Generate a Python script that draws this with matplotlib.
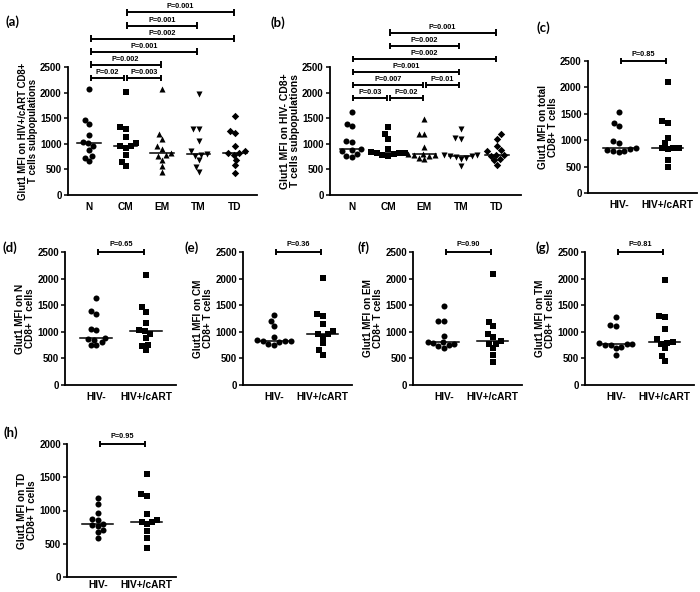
import numpy as np
import matplotlib
matplotlib.use("Agg")
import matplotlib.pyplot as plt

plt.rcParams['font.family'] = ['Liberation Sans', 'DejaVu Sans']

# ---------------- data ----------------
subsets = ["N", "CM", "EM", "TM", "TD"]
groups = ["HIV-", "HIV+/cART"]

# HIV+/cART Glut1 MFI per CD8+ subset
pos_N = [2070, 1460, 1380, 1170, 1030, 1020, 960, 880, 760, 730, 660]
pos_CM = [2010, 1330, 1290, 1140, 1010, 960, 950, 910, 790, 650, 560]
pos_EM = [2080, 1190, 1100, 960, 900, 820, 780, 770, 690, 560, 440]
pos_TM = [1980, 1290, 1280, 1050, 860, 800, 790, 770, 690, 550, 450]
pos_TD = [1550, 1250, 1220, 950, 860, 830, 820, 790, 690, 580, 430]
# HIV- Glut1 MFI per CD8+ subset
neg_N = [1630, 1390, 1340, 1050, 1030, 890, 870, 850, 800, 760, 750]
neg_CM = [1320, 1200, 1100, 900, 840, 830, 830, 820, 800, 780, 760]
neg_EM = [1490, 1200, 1200, 930, 810, 800, 790, 780, 760, 730, 700]
neg_TM = [1280, 1120, 1100, 790, 780, 770, 760, 750, 720, 700, 570]
neg_TD = [1190, 1100, 960, 870, 860, 790, 780, 770, 700, 680, 580]
# total CD8+
neg_total = [1540, 1330, 1260, 980, 940, 850, 840, 820, 800, 790, 780]
pos_total = [2100, 1360, 1330, 1040, 940, 860, 860, 850, 840, 620, 490]

# pairwise tests (from, to, label, level)
tests_a = [("N", "CM", "P=0.02", 0), ("CM", "EM", "P=0.003", 0),
           ("N", "EM", "P=0.002", 1), ("N", "TM", "P=0.001", 2),
           ("N", "TD", "P=0.002", 3), ("CM", "TM", "P=0.001", 4),
           ("CM", "TD", "P=0.001", 5)]
tests_b = [("N", "CM", "P=0.03", 0), ("CM", "EM", "P=0.02", 0),
           ("N", "EM", "P=0.007", 1), ("EM", "TM", "P=0.01", 1),
           ("N", "TM", "P=0.001", 2), ("N", "TD", "P=0.002", 3),
           ("CM", "TM", "P=0.002", 4), ("CM", "TD", "P=0.001", 5)]
p_two = {"c": "P=0.85", "d": "P=0.65", "e": "P=0.36",
         "f": "P=0.90", "g": "P=0.81", "h": "P=0.95"}

subset_markers = ["o", "s", "^", "v", "D"]
group_markers = ["o", "s"]

W, H = 700, 592
fig = plt.figure(figsize=(W / 100, H / 100), dpi=100)

TICK_FS = 7
XT_FS = 7.3
P_FS = 5.3
DIAM = 5.8
MS = 19


def add_ax(l, t, r, b):
    return fig.add_axes([l / W, 1 - b / H, (r - l) / W, (b - t) / H])


def swarm_offsets(vals, px_per_val, diam):
    y = np.asarray(vals, float) * px_per_val
    xs = np.zeros(len(y))
    placed = []
    for k, i in enumerate(np.argsort(y)):
        cands = [0.0]
        ints = []
        for j in placed:
            dy = y[i] - y[j]
            if abs(dy) < diam:
                half = np.sqrt(diam ** 2 - dy ** 2)
                ints.append((xs[j] - half, xs[j] + half))
                cands += [xs[j] - half, xs[j] + half]
        valid = [c for c in cands
                 if all(not (lo + 1e-6 < c < hi - 1e-6) for lo, hi in ints)]
        sgn = 1 if k % 2 else -1
        xs[i] = min(valid, key=lambda c: (round(abs(c), 4), sgn * c))
        placed.append(i)
    return xs


def style(ax, ymax, xlabels, xpad):
    for s in ["top", "right"]:
        ax.spines[s].set_visible(False)
    for s in ["left", "bottom"]:
        ax.spines[s].set_linewidth(1.3)
    ax.set_ylim(0, ymax)
    ax.set_yticks(np.arange(0, ymax + 1, 500))
    ax.tick_params(axis="y", length=3, width=1.1, pad=1.5, labelsize=TICK_FS)
    ax.tick_params(axis="x", length=0, pad=xpad, labelsize=XT_FS)
    ax.set_xticks(range(len(xlabels)))
    ax.set_xticklabels(xlabels)
    for lab in ax.get_xticklabels() + ax.get_yticklabels():
        lab.set_fontweight("bold")


def draw_groups(ax, data, markers, box, xlim, ymax, msize):
    l, t, r, b = box
    unit_px = (r - l) / (xlim[1] - xlim[0])
    px_per_val = (b - t) / ymax
    for i, (vals, m) in enumerate(zip(data, markers)):
        off = swarm_offsets(vals, px_per_val, DIAM) / unit_px
        s = msize * (0.75 if m == "D" else 1.0)
        ax.scatter(i + off, vals, marker=m, s=s, color="black",
                   linewidths=0, zorder=3, clip_on=False)
        med = np.median(vals)
        ax.plot([i - 0.32, i + 0.32], [med, med], color="black", lw=1.1,
                zorder=2)
    ax.set_xlim(*xlim)


def bracket(ax, x0, x1, y, label, cap, txt_off):
    g = 0.04
    kw = dict(color="black", lw=1.4, clip_on=False, solid_capstyle="butt")
    ax.plot([x0 + g, x1 - g], [y, y], **kw)
    ax.plot([x0 + g, x0 + g], [y - cap, y + cap], **kw)
    ax.plot([x1 - g, x1 - g], [y - cap, y + cap], **kw)
    ax.text((x0 + x1) / 2, y + txt_off, label, ha="center", va="bottom",
            fontsize=P_FS, fontweight="bold", clip_on=False)


def panel_label(x, y, s):
    fig.text(x / W, 1 - y / H, s, ha="center", va="center", fontsize=9.5,
             fontweight="bold", family=["Lato", "DejaVu Sans"])


# ---------- (a) and (b): subsets ----------
multi = [
    ("a", (68, 67, 257, 195), (-0.58, 4.6),
     [pos_N, pos_CM, pos_EM, pos_TM, pos_TD], tests_a, 2290,
     "Glut1 MFI on HIV+/cART CD8+\nT cells subpopulations", 6.9),
    ("b", (330, 67, 521, 195), (-0.6, 4.66),
     [neg_N, neg_CM, neg_EM, neg_TM, neg_TD], tests_b, 1895,
     "Glut1 MFI on HIV- CD8+\nT cells subpopulations", 7.5),
]
for key, box, xlim, data, tests, base, ylab, lfs in multi:
    ax = add_ax(*box)
    draw_groups(ax, data, subset_markers, box, xlim, 2500, MS)
    style(ax, 2500, subsets, 5)
    ax.set_ylabel(ylab, fontsize=lfs, fontweight="bold", labelpad=1.5,
                  linespacing=1.05)
    vpp = 2500 / (box[3] - box[1])
    for a0, a1, lab, lev in tests:
        bracket(ax, subsets.index(a0), subsets.index(a1), base + lev * 255,
                lab, 3.2 * vpp, 2.0 * vpp)

# ---------- (c)-(h): HIV- vs HIV+/cART ----------
two = [
    ("c", (588, 61, 697, 193), 2500, [neg_total, pos_total], "total", 5),
    ("d", (65, 252, 176, 385), 2500, [neg_N, pos_N], "N", 5),
    ("e", (243, 252, 352, 385), 2500, [neg_CM, pos_CM], "CM", 5),
    ("f", (413, 252, 522, 385), 2500, [neg_EM, pos_EM], "EM", 5),
    ("g", (585, 252, 694, 385), 2500, [neg_TM, pos_TM], "TM", 5),
    ("h", (67, 444, 176, 577), 2000, [neg_TD, pos_TD], "TD", 2.5),
]
for key, box, ymax, data, name, xpad in two:
    ax = add_ax(*box)
    xlim = (-0.63, 1.6)
    draw_groups(ax, data, group_markers, box, xlim, ymax, MS)
    style(ax, ymax, groups, xpad)
    ax.set_ylabel(f"Glut1 MFI on {name}\nCD8+ T cells", fontsize=7.2,
                  fontweight="bold", labelpad=1.5, linespacing=1.05)
    vpp = ymax / (box[3] - box[1])
    bracket(ax, 0, 1, ymax, p_two[key], 3.2 * vpp, 3.5 * vpp)

for s, x, y in [("(a)", 12, 22), ("(b)", 278, 23), ("(c)", 543, 28),
                ("(d)", 10, 248), ("(e)", 192, 248), ("(f)", 363, 248),
                ("(g)", 543, 248), ("(h)", 11, 433)]:
    panel_label(x, y, s)

fig.savefig("out.png", dpi=100)
